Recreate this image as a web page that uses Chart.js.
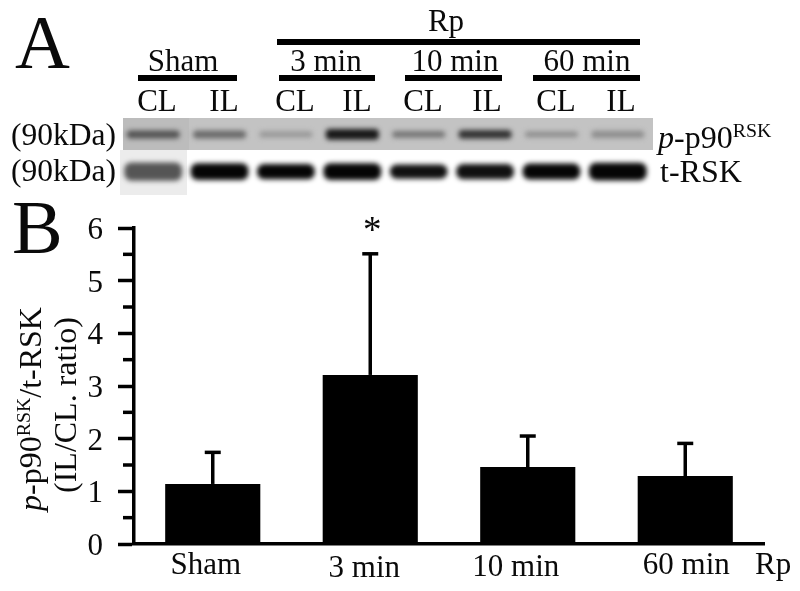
<!DOCTYPE html>
<html>
<head>
<meta charset="utf-8">
<script src="https://cdn.jsdelivr.net/npm/chart.js@4"></script>
<style>
  html, body { margin: 0; padding: 0; background: #fff; }
  #page { position: relative; width: 800px; height: 591px; overflow: hidden; font-family: "Liberation Serif", serif; color: #0a0a0a; }
  #page canvas { position: absolute; }
  .t { position: absolute; white-space: nowrap; line-height: 1; font-size: 31px; }
  .c { transform: translateX(-50%); }
  .rule { position: absolute; background: #000; }
  .patch { position: absolute; }
  .rot { position: absolute; white-space: nowrap; line-height: 1; transform: translate(-50%, -50%) rotate(-90deg); }
  sup { font-size: 0.62em; line-height: 0; vertical-align: baseline; position: relative; top: -0.55em; }
  #blot { filter: blur(2.4px); }
</style>
</head>
<body>
<div id="page">
  <canvas id="bars" width="800" height="591" style="left:0;top:0"></canvas>

  <div class="patch" style="left:123px;top:118px;width:66px;height:32px;background:#bcbcbc"></div>
  <div class="patch" style="left:189px;top:118px;width:464px;height:32px;background:#c3c3c3"></div>
  <div class="patch" style="left:120px;top:150px;width:67px;height:45px;background:#ececec"></div>
  <canvas id="blot" width="531" height="80" style="left:120px;top:118px"></canvas>

  <div class="t" style="left:15px;top:4px;font-size:76px">A</div>
  <div class="t" style="left:12px;top:189px;font-size:76px">B</div>

  <div class="t c" style="left:446px;top:5px">Rp</div>
  <div class="rule" style="left:277px;top:39px;width:363px;height:6px"></div>

  <div class="t c" style="left:183px;top:45px">Sham</div>
  <div class="t c" style="left:326px;top:45px">3 min</div>
  <div class="t c" style="left:455px;top:45px">10 min</div>
  <div class="t c" style="left:587px;top:45px">60 min</div>
  <div class="rule" style="left:138px;top:75px;width:99px;height:6px"></div>
  <div class="rule" style="left:279px;top:75px;width:96px;height:6px"></div>
  <div class="rule" style="left:405px;top:75px;width:97px;height:6px"></div>
  <div class="rule" style="left:533px;top:75px;width:107px;height:6px"></div>

  <div class="t c" style="left:157px;top:85px">CL</div>
  <div class="t c" style="left:224px;top:85px">IL</div>
  <div class="t c" style="left:295px;top:85px">CL</div>
  <div class="t c" style="left:357px;top:85px">IL</div>
  <div class="t c" style="left:423px;top:85px">CL</div>
  <div class="t c" style="left:487px;top:85px">IL</div>
  <div class="t c" style="left:556px;top:85px">CL</div>
  <div class="t c" style="left:621px;top:85px">IL</div>

  <div class="t" style="left:11px;top:119px;font-size:31.5px">(90kDa)</div>
  <div class="t" style="left:11px;top:155px;font-size:31.5px">(90kDa)</div>
  <div class="t" style="left:658px;top:121px;font-size:32px"><i>p</i>-p90<sup>RSK</sup></div>
  <div class="t" style="left:660px;top:155px;font-size:32px">t-RSK</div>

  <div class="rot" style="left:30px;top:409px;font-size:32px"><i>p</i>-p90<sup>RSK</sup>/t-RSK</div>
  <div class="rot" style="left:65px;top:405px;font-size:32px">(IL/CL. ratio)</div>
</div>

<script>
// panel B
const groups = ['Sham', '3 min', '10 min', '60 min'];
const means = [1.14, 3.21, 1.46, 1.29];
const errTops = [1.74, 5.51, 2.05, 1.91];
const marks = ['', '*', '', ''];
const yTicks = [0, 1, 2, 3, 4, 5, 6];

// panel A, band strength 0..1 and band thickness for each lane
const lanes = ['CL', 'IL', 'CL', 'IL', 'CL', 'IL', 'CL', 'IL'];
const pStrength = [0.62, 0.48, 0.22, 0.95, 0.42, 0.8, 0.28, 0.28];
const pThick = [0.2, 0.2, 0.16, 0.27, 0.17, 0.22, 0.14, 0.18];
const tStrength = [0.78, 1, 1, 1, 0.97, 0.97, 1, 1];
const tThick = [0.46, 0.42, 0.38, 0.42, 0.36, 0.38, 0.4, 0.44];

Chart.defaults.animation = false;
Chart.defaults.responsive = false;

const serif = '"Liberation Serif", serif';
const labelShift = [-7, -6, -12, 1];
const labelDrop = [0, 3, 2, 0];

// error bars, short ticks and the x labels sit on the chart scales
const extras = {
    id: 'extras',
    afterDatasetsDraw(chart) {
        const { ctx, scales: { x, y } } = chart;
        ctx.save();
        ctx.strokeStyle = '#000';

        // minor ticks
        ctx.lineWidth = 3.5;
        y.ticks.forEach(t => {
            if (t.value % 1 === 0) return;
            const py = y.getPixelForValue(t.value);
            ctx.beginPath(); ctx.moveTo(123, py); ctx.lineTo(x.left, py); ctx.stroke();
        });

        groups.forEach((g, i) => {
            const cx = x.getPixelForTick(i);
            const top = y.getPixelForValue(errTops[i]);
            ctx.lineWidth = 3.5;
            ctx.beginPath(); ctx.moveTo(cx, y.getPixelForValue(means[i])); ctx.lineTo(cx, top); ctx.stroke();
            ctx.beginPath(); ctx.moveTo(cx - 8, top); ctx.lineTo(cx + 8, top); ctx.stroke();

            ctx.textAlign = 'center';
            ctx.textBaseline = 'alphabetic';
            ctx.fillStyle = '#0a0a0a';
            ctx.font = '31px ' + serif;
            ctx.fillText(g, cx + labelShift[i], y.bottom + 30 + labelDrop[i]);
            if (marks[i]) {
                ctx.font = '37px ' + serif;
                ctx.fillText(marks[i], cx + 2, top - 12);
            }
        });

        ctx.fillStyle = '#0a0a0a';
        ctx.font = '31px ' + serif;
        ctx.textAlign = 'left';
        ctx.fillText('Rp', 755, y.bottom + 30);
        ctx.restore();
    }
};

new Chart(document.getElementById('bars'), {
    type: 'bar',
    data: {
        labels: groups,
        datasets: [{
            data: means,
            backgroundColor: '#000',
            categoryPercentage: 1,
            barPercentage: 0.604
        }]
    },
    options: {
        layout: { padding: { top: 228, right: 36, left: 0, bottom: 0 } },
        plugins: { legend: { display: false }, tooltip: { enabled: false } },
        scales: {
            x: {
                afterFit: s => { s.height = 47; },
                grid: { display: false, drawTicks: false },
                border: { color: '#000', width: 3.5 },
                ticks: { display: false }
            },
            y: {
                min: 0,
                max: 6,
                afterFit: s => { s.width = 134; },
                grid: {
                    drawOnChartArea: false,
                    tickLength: 16,
                    tickWidth: 3.5,
                    tickColor: c => (yTicks.includes(c.tick.value) ? '#000' : 'rgba(0,0,0,0)')
                },
                border: { color: '#000', width: 3.5 },
                ticks: {
                    stepSize: 0.5,
                    autoSkip: false,
                    padding: 15,
                    labelOffset: 3,
                    color: '#0a0a0a',
                    font: { family: serif, size: 31 },
                    callback: v => (yTicks.includes(v) ? String(v) : '')
                }
            }
        }
    },
    plugins: [extras]
});

// blot lanes: two rows of floating bars, the canvas is blurred in css
const grey = s => { const g = Math.round(190 - 175 * s); return `rgb(${g},${g},${g})`; };
const blackish = s => { const g = Math.round(85 - 80 * (s - 0.78) / 0.22); return `rgb(${g},${g},${g})`; };
const pCentre = 1.59;
const tCentre = 0.66;

new Chart(document.getElementById('blot'), {
    type: 'bar',
    data: {
        labels: lanes.map((l, i) => l + i),
        datasets: [
            {
                data: pThick.map(h => [pCentre - h / 2, pCentre + h / 2]),
                backgroundColor: pStrength.map(grey),
                categoryPercentage: 1,
                barPercentage: 0.8,
                borderRadius: 4,
                borderSkipped: false,
                grouped: false
            },
            {
                data: tThick.map(h => [tCentre - h / 2, tCentre + h / 2]),
                backgroundColor: tStrength.map(blackish),
                categoryPercentage: 1,
                barPercentage: 0.87,
                borderRadius: 7,
                borderSkipped: false,
                grouped: false
            }
        ]
    },
    options: {
        plugins: { legend: { display: false }, tooltip: { enabled: false } },
        scales: {
            x: { display: false },
            y: { display: false, min: 0, max: 2 }
        }
    }
});
</script>
</body>
</html>
